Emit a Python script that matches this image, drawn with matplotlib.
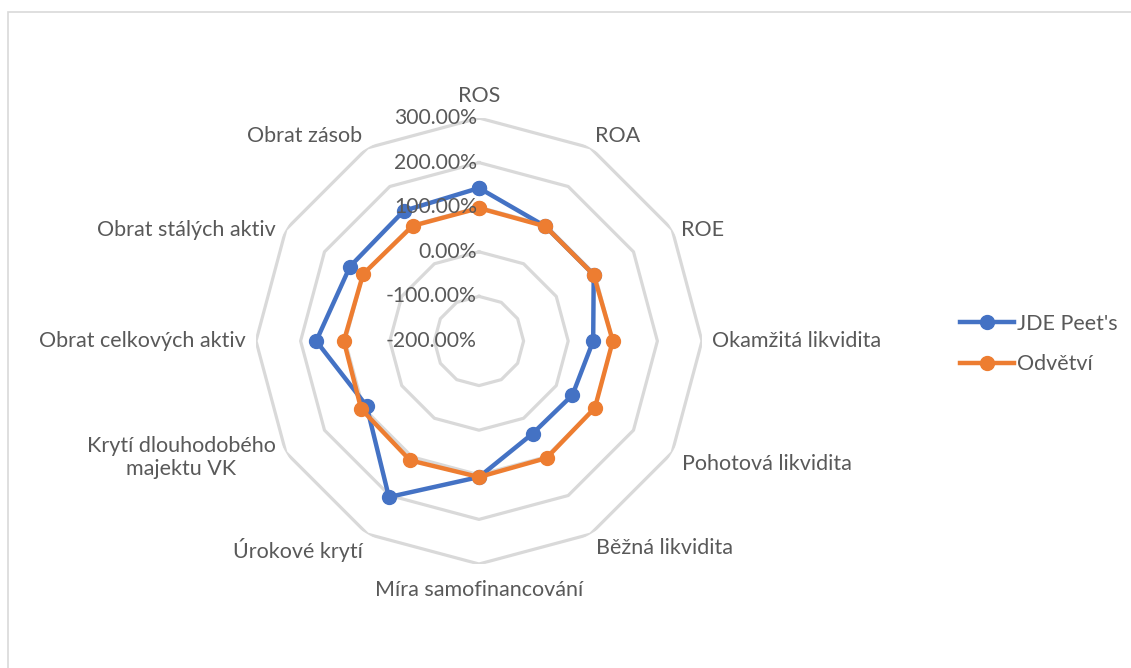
import numpy as np
import matplotlib
matplotlib.use('Agg')
import matplotlib.pyplot as plt
from matplotlib.patches import Rectangle

plt.rcParams['font.family'] = ['Lato', 'DejaVu Sans']

categories = ['ROS', 'ROA', 'ROE', 'Okamžitá likvidita', 'Pohotová likvidita',
              'Běžná likvidita', 'Míra samofinancování', 'Úrokové krytí',
              'Krytí dlouhodobého\nmajektu VK', 'Obrat celkových aktiv',
              'Obrat stálých aktiv', 'Obrat zásob']
jde = [143, 97, 97, 56, 42, 40, 105, 204, 91, 165, 134, 137]
odvetvi = [98, 97, 97, 100, 100, 103, 105, 109, 105, 103, 100, 98]
rings = [-200, -100, 0, 100, 200, 300]

W, H = 1131, 668
fig = plt.figure(figsize=(W / 100, H / 100), dpi=100)
cx, cy, R = 479, 341, 223
ax = fig.add_axes([(cx - R) / W, (H - cy - R) / H, 2 * R / W, 2 * R / H], polar=True)
ax.set_theta_zero_location('N')
ax.set_theta_direction(-1)
ax.set_ylim(-200, 300)
ax.grid(False)
ax.spines['polar'].set_visible(False)
ax.set_xticks([])
ax.set_yticks([])
ax.patch.set_alpha(0)

n = len(categories)
theta = np.linspace(0, 2 * np.pi, n, endpoint=False)
tc = np.append(theta, theta[0])

grey = '#D9D9D9'
txt = '#595959'
fs = 15.5
for v in rings[1:]:
    ax.plot(tc, [v] * (n + 1), color=grey, lw=2.3, zorder=1)

ax.plot(tc, jde + jde[:1], color='#4472C4', lw=3.2, marker='o', ms=10,
        label="JDE Peet's", zorder=3)
ax.plot(tc, odvetvi + odvetvi[:1], color='#ED7D31', lw=3.2, marker='o', ms=10,
        label='Odvětví', zorder=4)

for v in rings:
    ax.annotate(f'{v:.2f}%', (0, v), xytext=(-2, 0), textcoords='offset pixels',
                ha='right', va='center', fontsize=15.2, color=txt, zorder=5)

# category label placement (ha, va, offset px)
place = [('center', 'bottom', 0, 12), ('left', 'bottom', 5, 2), ('left', 'center', 9, 0),
         ('left', 'center', 10, 0), ('left', 'top', 10, -2), ('left', 'top', 5, -4),
         ('center', 'top', 0, -16), ('right', 'top', -5, -4), ('right', 'center', -10, -5),
         ('right', 'center', -10, 0), ('right', 'center', -10, 0), ('right', 'bottom', -5, 2)]
for t, lab, (ha, va, dx, dy) in zip(theta, categories, place):
    ax.annotate(lab, (t, 300), xytext=(dx, dy), textcoords='offset pixels',
                ha=ha, va=va, multialignment='center', fontsize=fs, color=txt,
                annotation_clip=False)

leg = fig.legend(loc='center left', bbox_to_anchor=(941 / W, 1 - 344 / H), frameon=False,
                 fontsize=fs, handlelength=2.5, labelspacing=0.95, handletextpad=0.12)
for t in leg.get_texts():
    t.set_color(txt)

fig.patches.append(Rectangle((8 / W, -0.1), 1.2, 1 - 12 / H + 0.1, transform=fig.transFigure,
                             fill=False, edgecolor=grey, lw=1.2))

fig.savefig('out.png', dpi=100)
